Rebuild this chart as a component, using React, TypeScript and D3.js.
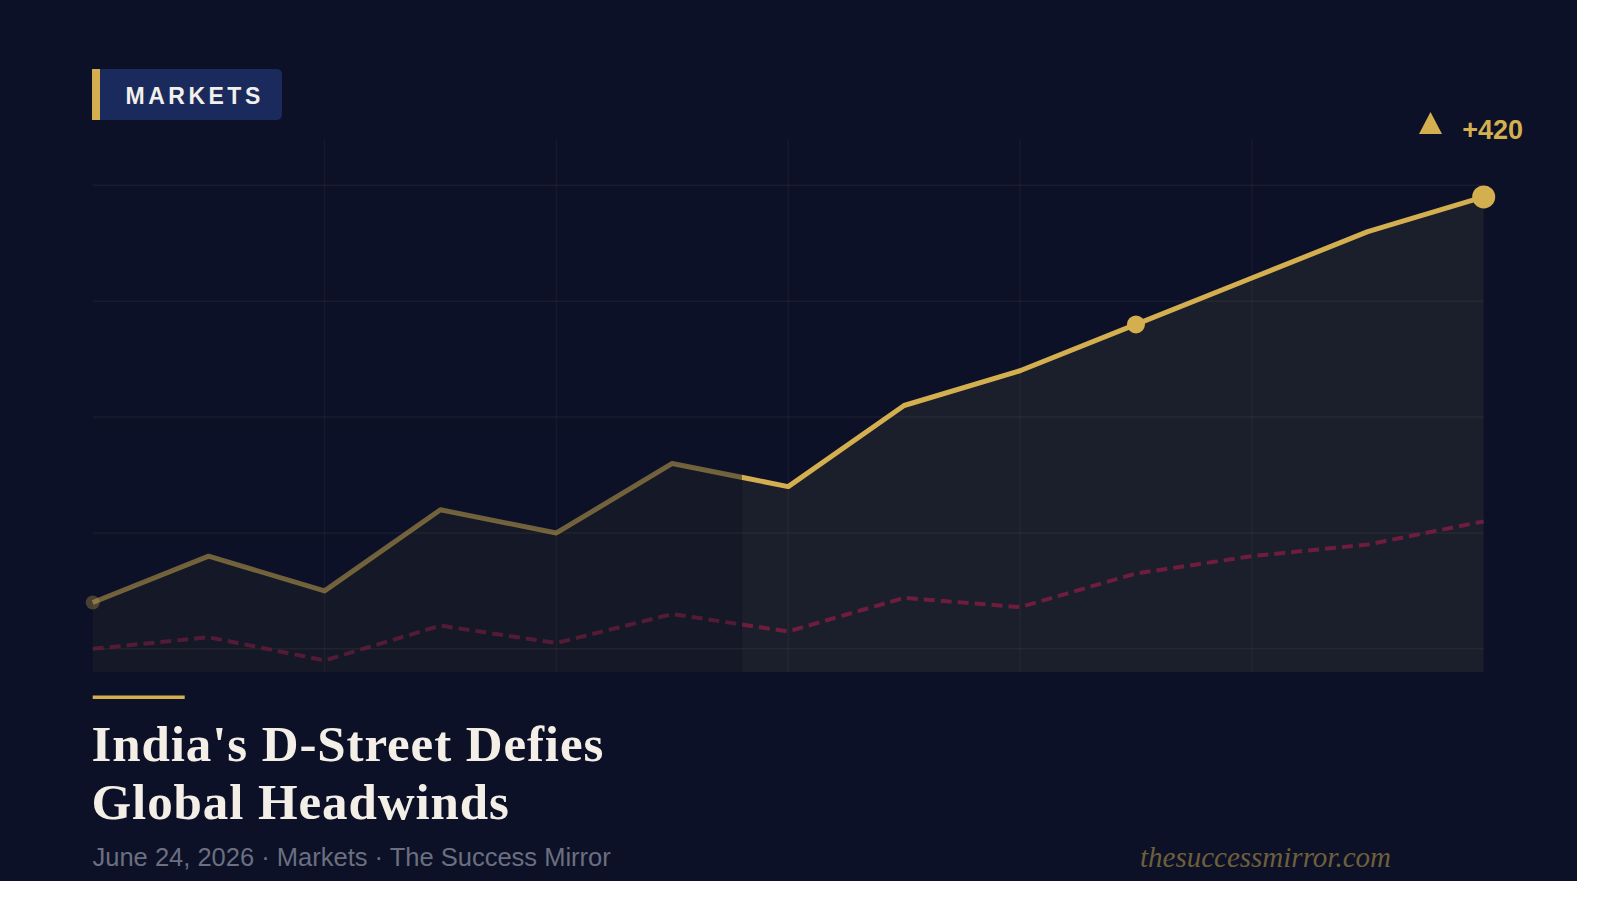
import React from 'react';
import * as d3 from 'd3';

// session index -> level (pts) for the two paths
const sessions = [0, 1, 2, 3, 4, 5, 6, 7, 8, 9, 10, 11, 12];
const indiaPath = [40, 80, 50, 120, 100, 160, 140, 210, 240, 280, 320, 360, 390];
const globalPath = [0, 10, -10, 20, 5, 30, 15, 44, 36, 65, 80, 90, 110];

const gridLevels = [0, 100, 200, 300, 400];
const gridSessions = [2, 4, 6, 8, 10];
const highlightFrom = 5.6;
const markedSessions = [9];

const badgeText = 'MARKETS';
const changeText = '+420';
const titleLines = ["India's D-Street Defies", 'Global Headwinds'];
const metaText = 'June 24, 2026 · Markets · The Success Mirror';
const siteText = 'thesuccessmirror.com';

const W = 1600;
const H = 904;
const cardW = 1577;
const cardH = 881;
const plot = { left: 92.7, right: 1483.7, top: 139, bottom: 672 };

const gold = '#d4af4f';
const wine = '#6e1d3c';
const bg = '#0c1128';
const sans = '"Liberation Sans", Arial, sans-serif';
const serif = '"Liberation Serif", "Times New Roman", serif';

export default function App() {
  const x = d3.scaleLinear().domain([0, 12]).range([plot.left, plot.right]);
  const y = d3.scaleLinear().domain([-20, 440]).range([plot.bottom, plot.top]);

  const line = d3
    .line<number>()
    .x((_, i) => x(sessions[i]))
    .y((d) => y(d));
  const area = d3
    .area<number>()
    .x((_, i) => x(sessions[i]))
    .y0(plot.bottom)
    .y1((d) => y(d));

  const splitX = x(highlightFrom);
  const last = sessions.length - 1;
  const endX = x(sessions[last]);
  const endY = y(indiaPath[last]);

  // change badge position (triangle + label)
  const chgX = 1523;
  const chgY = 139;
  const tri = `M${chgX - 104},${chgY - 5} L${chgX - 92.5},${chgY - 27} L${chgX - 81},${chgY - 5} Z`;

  return (
    <div style={{ position: 'absolute', left: 0, top: 0 }}>
      <svg width={W} height={H} style={{ display: 'block' }}>
        <defs>
          <clipPath id="clip-past">
            <rect x={0} y={0} width={splitX} height={cardH} />
          </clipPath>
          <clipPath id="clip-now">
            <rect x={splitX} y={0} width={cardW - splitX} height={cardH} />
          </clipPath>
        </defs>

        <rect width={cardW} height={cardH} fill={bg} />

        {/* area under the main path */}
        <path d={area(indiaPath) || ''} fill="#151826" clipPath="url(#clip-past)" />
        <path d={area(indiaPath) || ''} fill="#1b1e2b" clipPath="url(#clip-now)" />

        {/* grid */}
        {gridLevels.map((v) => (
          <line
            key={'h' + v}
            x1={plot.left}
            x2={plot.right}
            y1={y(v)}
            y2={y(v)}
            stroke="rgba(200,170,140,0.07)"
            strokeWidth={1.5}
          />
        ))}
        {gridSessions.map((s) => (
          <line
            key={'v' + s}
            x1={x(s)}
            x2={x(s)}
            y1={plot.top}
            y2={plot.bottom}
            stroke="rgba(200,170,140,0.06)"
            strokeWidth={1.5}
          />
        ))}

        {/* global benchmark, dashed */}
        <path
          d={line(globalPath) || ''}
          fill="none"
          stroke={wine}
          strokeWidth={4}
          strokeDasharray="11 6"
          opacity={0.7}
          clipPath="url(#clip-past)"
        />
        <path
          d={line(globalPath) || ''}
          fill="none"
          stroke={wine}
          strokeWidth={4}
          strokeDasharray="11 6"
          clipPath="url(#clip-now)"
        />

        {/* India path */}
        <path
          d={line(indiaPath) || ''}
          fill="none"
          stroke={gold}
          strokeWidth={5}
          strokeLinejoin="round"
          opacity={0.5}
          clipPath="url(#clip-past)"
        />
        <path
          d={line(indiaPath) || ''}
          fill="none"
          stroke={gold}
          strokeWidth={5}
          strokeLinejoin="round"
          clipPath="url(#clip-now)"
        />

        <circle cx={x(sessions[0])} cy={y(indiaPath[0])} r={7} fill={gold} opacity={0.3} />
        {markedSessions.map((s) => (
          <circle key={s} cx={x(s)} cy={y(indiaPath[s])} r={9} fill={gold} />
        ))}
        <circle cx={endX} cy={endY} r={11.5} fill={gold} />

        {/* change label */}
        <path d={tri} fill={gold} />
        <text
          x={chgX}
          y={chgY}
          textAnchor="end"
          fill={gold}
          fontFamily={sans}
          fontWeight="bold"
          fontSize={27}
        >
          {changeText}
        </text>

        {/* section badge */}
        <rect x={92} y={69} width={190} height={51} rx={5} fill="#1b2a5c" />
        <rect x={92} y={69} width={8} height={51} fill={gold} />
        <text
          x={125.5}
          y={104.3}
          fill="#f2f0ea"
          fontFamily={sans}
          fontWeight="bold"
          fontSize={23}
          letterSpacing={3.5}
        >
          {badgeText}
        </text>

        {/* headline */}
        <rect x={92.7} y={695.5} width={92} height={3.5} fill={gold} />
        {titleLines.map((t, i) => (
          <text
            key={t}
            x={91.5}
            y={760.7 + i * 58.3}
            fill="#f3efe6"
            fontFamily={serif}
            fontWeight="bold"
            fontSize={51}
            letterSpacing={0.9}
          >
            {t}
          </text>
        ))}
        <text x={92.5} y={865.7} fill="#6b6f80" fontFamily={sans} fontSize={25.5}>
          {metaText}
        </text>
        <text
          x={1391}
          y={867}
          textAnchor="end"
          fill="#6e5f3c"
          fontFamily={serif}
          fontStyle="italic"
          fontSize={29}
        >
          {siteText}
        </text>
      </svg>
    </div>
  );
}
